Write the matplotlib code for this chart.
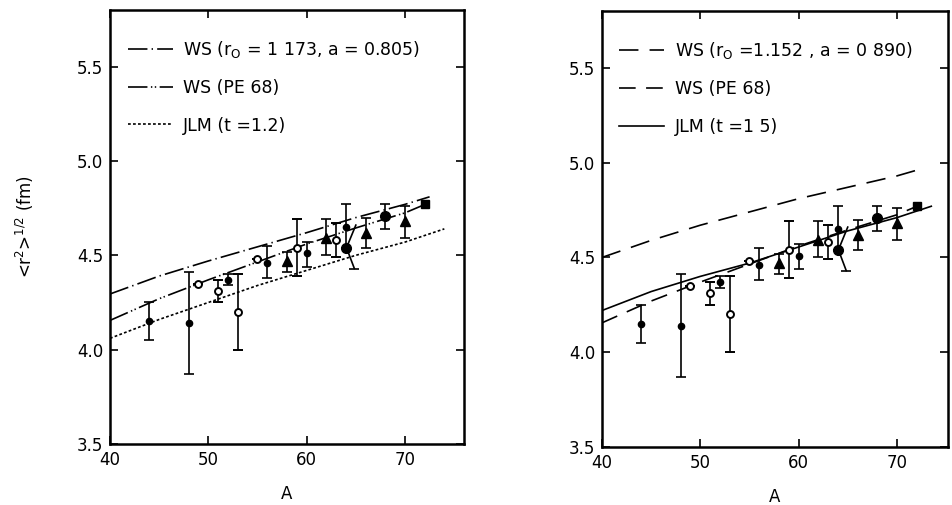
import numpy as np
import matplotlib
matplotlib.use("Agg")
from matplotlib import pyplot as plt

plt.rcParams['font.family'] = ['DejaVu Sans']
plt.rcParams['lines.scale_dashes'] = False

# Measured points (same on both panels): A and <r^2>^1/2 with lower/upper errors
dot_A = [44, 48, 52, 56, 60, 64]
dot_r = [4.15, 4.14, 4.37, 4.46, 4.51, 4.65]
dot_lo = [0.10, 0.27, 0.03, 0.08, 0.07, 0.11]
dot_hi = [0.10, 0.27, 0.03, 0.09, 0.06, 0.12]

open_A = [49, 51, 53, 55, 59, 63]
open_r = [4.35, 4.31, 4.20, 4.48, 4.54, 4.58]
open_lo = [0.0, 0.06, 0.20, 0.0, 0.15, 0.09]
open_hi = [0.0, 0.06, 0.20, 0.0, 0.15, 0.09]

tri_A = [58, 62, 66, 70]
tri_r = [4.47, 4.59, 4.62, 4.68]
tri_lo = [0.06, 0.09, 0.08, 0.09]
tri_hi = [0.05, 0.10, 0.08, 0.08]

big_A = [64, 68]
big_r = [4.54, 4.71]
big_lo = [0.0, 0.07]
big_hi = [0.0, 0.06]

sq_A = [72]
sq_r = [4.77]

# slanted error band on the A=64 point
kink_A = [65.0, 64.05, 64.85]
kink_r = [4.66, 4.54, 4.43]

# calculated curves
curve_A = [40, 45, 50, 55, 60, 65, 70, 72.5]
ws_1173 = [4.295, 4.39, 4.47, 4.545, 4.62, 4.70, 4.77, 4.81]
ws_pe68 = [4.155, 4.27, 4.37, 4.465, 4.56, 4.645, 4.725, 4.78]
jlm_A = [40, 45, 50, 55, 60, 65, 70, 74]
jlm_12 = [4.06, 4.16, 4.25, 4.34, 4.42, 4.50, 4.57, 4.64]
ws_1152_A = [40, 45, 50, 55, 60, 65, 70, 72]
ws_1152 = [4.50, 4.59, 4.67, 4.74, 4.81, 4.87, 4.93, 4.96]
jlm15_A = [40, 45, 50, 55, 60, 65, 70, 73.5]
jlm_15 = [4.22, 4.32, 4.40, 4.47, 4.555, 4.64, 4.71, 4.77]

left_labels = ['WS (r$_{\\rm O}$ = 1 173, a = 0.805)', 'WS (PE 68)', 'JLM (t =1.2)']
right_labels = ['WS (r$_{\\rm O}$ =1.152 , a = 0 890)', 'WS (PE 68)', 'JLM (t =1 5)']


def draw_data(ax):
    kw = dict(color='k', ecolor='k', elinewidth=1.2, capsize=3.5, capthick=1.2, linestyle='none')
    ax.errorbar(dot_A, dot_r, yerr=[dot_lo, dot_hi], marker='o', ms=4.5, mfc='k', **kw)
    ax.errorbar(open_A, open_r, yerr=[open_lo, open_hi], marker='o', ms=5, mfc='white', mew=1.4, **kw)
    ax.errorbar(tri_A, tri_r, yerr=[tri_lo, tri_hi], marker='^', ms=7, mfc='k', **kw)
    ax.plot(kink_A, kink_r, color='k', lw=1.2)
    ax.plot(kink_A[-1:], kink_r[-1:], marker='_', ms=7, mew=1.2, color='k')
    ax.errorbar(big_A, big_r, yerr=[big_lo, big_hi], marker='o', ms=7, mfc='k', **kw)
    ax.plot(sq_A, sq_r, marker='s', ms=6, color='k', linestyle='none')


def style_axes(ax, xmax):
    ax.set_xlim(40, xmax)
    ax.set_ylim(3.5, 5.8)
    ax.set_xticks([40, 50, 60, 70])
    ax.set_yticks([3.5, 4.0, 4.5, 5.0, 5.5])
    ax.set_yticklabels(['3.5', '4.0', '4.5', '5.0', '5.5'])
    ax.tick_params(direction='in', top=True, right=True, length=6, width=1.2,
                   labelsize=12, pad=5)
    for s in ax.spines.values():
        s.set_linewidth(1.8)
    ax.set_xlabel('A', fontsize=12)
    ax.xaxis.set_label_coords(0.5, -0.094)
    ax.xaxis.label.set_va('top')


def add_legend(ax):
    ax.legend(loc='upper left', bbox_to_anchor=(0.05, 0.934), frameon=False, fontsize=12.5,
              handlelength=2.6, handletextpad=0.6, labelspacing=1.12, borderpad=0,
              borderaxespad=0)


fig = plt.figure(figsize=(9.52, 5.05), dpi=100)
ax1 = fig.add_axes([110 / 952, 1 - 444 / 505, 354 / 952, 434 / 505])
ax2 = fig.add_axes([602 / 952, 1 - 447 / 505, 346 / 952, 436 / 505])

# left panel
ax1.plot(curve_A, ws_1173, color='k', lw=1.2, ls=(0, (14, 3, 1, 3)), label=left_labels[0])
ax1.plot(curve_A, ws_pe68, color='k', lw=1.2, ls=(0, (14, 2.5, 1, 1.8, 1, 2.5)), label=left_labels[1])
ax1.plot(jlm_A, jlm_12, color='k', lw=1.2, ls=(0, (2, 1.6)), label=left_labels[2])
draw_data(ax1)
style_axes(ax1, 76.0)
ax1.set_ylabel('<r$^{2}$>$^{1/2}$ (fm)', fontsize=12)
ax1.yaxis.set_label_coords(-0.21, 0.5)
add_legend(ax1)

# right panel
ax2.plot(ws_1152_A, ws_1152, color='k', lw=1.2, ls=(0, (14, 8)), label=right_labels[0])
ax2.plot(curve_A, ws_pe68, color='k', lw=1.2, ls=(0, (12, 7.5)), label=right_labels[1])
ax2.plot(jlm15_A, jlm_15, color='k', lw=1.2, label=right_labels[2])
draw_data(ax2)
style_axes(ax2, 75.2)
add_legend(ax2)

fig.savefig('out.png', dpi=100)
